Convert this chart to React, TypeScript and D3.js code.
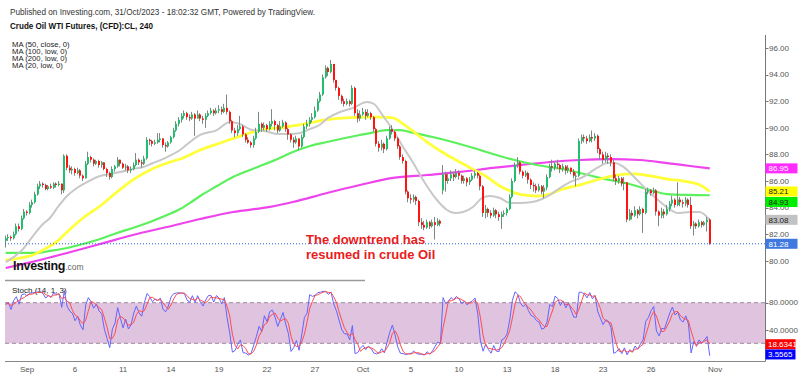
import React from 'react';
import * as d3 from 'd3';

const headerText = 'Published on Investing.com, 31/Oct/2023 - 18:02:32 GMT, Powered by TradingView.';
const titleText = 'Crude Oil WTI Futures, (CFD):CL, 240';
const maLegend = ['MA (50, close, 0)', 'MA (100, low, 0)', 'MA (200, low, 0)', 'MA (20, low, 0)'];
const stochLabel = 'Stoch (14, 1, 3)';
const noteLines = ['The downtrend has', 'resumed in crude Oil'];

const priceTicks = [80, 82, 84, 86, 88, 90, 92, 94, 96];
const stochTicks = [80, 40];
const stochBand = [20, 80];
const xTickLabels = ['Sep', '6', '11', '14', '19', '22', '27', 'Oct', '5', '10', '13', '18', '23', '26', 'Nov'];
const xTickBars = [8, 26, 44, 62, 80, 98, 116, 134, 152, 170, 188, 206, 224, 242, 266];

const lastPrice = 81.28;
const priceTagValues = [86.95, 85.21, 84.93, 83.08, 81.28];
const stochTagValues = [18.6341, 3.5565];

// 4h candles: [high, low, close]; open = previous close unless listed in gapOpens
const firstOpen = 81.5;
const gapOpens: [number, number][] = [[164, 85.3]];
const candleHLC: [number, number, number][] = [
  [81.9,81.0,81.7],[82.0,81.5,81.8],[81.9,81.5,81.7],[82.2,81.6,82.0],[82.8,81.9,82.6],[82.8,82.2,82.4],
  [83.4,82.3,83.2],[83.9,83.1,83.7],[83.8,83.4,83.6],[84.4,83.5,84.2],[84.6,84.0,84.4],[85.2,84.3,85.0],
  [85.8,84.9,85.6],[86.0,85.4,85.8],[85.9,85.5,85.7],[85.8,85.3,85.4],[85.7,85.3,85.6],[85.8,85.4,85.5],
  [85.9,85.4,85.8],[85.9,85.5,85.7],[86.0,85.6,85.8],[85.8,85.0,85.3],[88.0,85.1,87.9],[88.0,86.8,87.0],
  [87.2,86.6,86.8],[87.1,86.5,86.9],[87.0,86.4,86.6],[87.0,86.5,86.8],[86.9,86.2,86.4],[86.5,86.0,86.2],
  [87.5,86.2,87.3],[88.2,87.2,87.8],[87.9,87.4,87.6],[87.7,87.1,87.3],[87.6,87.2,87.5],[87.6,87.0,87.2],
  [87.5,87.0,87.4],[87.4,86.8,86.9],[87.0,86.3,86.6],[86.7,86.1,86.3],[87.1,86.2,86.9],[87.2,86.7,87.1],
  [87.8,87.0,87.6],[87.6,87.1,87.3],[87.4,86.9,87.0],[87.3,86.8,87.1],[87.2,86.6,86.8],[87.1,86.6,86.9],
  [87.4,86.8,87.2],[88.1,87.1,87.6],[87.7,87.2,87.4],[87.6,87.0,87.3],[87.9,87.2,87.7],[89.3,87.6,89.1],
  [89.2,88.7,89.0],[89.1,88.6,88.8],[89.1,88.7,88.9],[89.6,88.8,89.1],[89.6,88.9,89.2],[89.2,88.5,88.7],
  [88.9,88.2,88.6],[89.0,88.5,88.9],[89.4,88.8,89.3],[90.0,89.2,89.8],[90.5,89.7,90.3],[90.8,90.1,90.6],
  [91.1,90.4,90.9],[91.3,90.7,91.1],[91.2,90.6,90.8],[91.0,90.5,90.7],[91.2,90.6,91.0],[91.1,89.4,90.7],
  [91.3,90.7,91.0],[91.1,90.5,90.7],[90.9,90.3,90.6],[91.1,90.0,90.9],[91.3,90.8,91.1],[91.5,91.0,91.3],
  [91.4,90.9,91.1],[91.5,91.0,91.3],[91.7,91.1,91.4],[91.6,91.0,91.2],[91.8,91.1,91.5],[92.5,91.0,91.2],
  [91.3,90.3,90.5],[90.6,89.6,89.8],[90.0,89.3,89.6],[90.2,89.4,89.9],[90.9,89.8,90.1],[90.2,89.3,89.5],
  [89.6,88.9,89.1],[89.3,88.8,88.9],[89.0,88.5,88.7],[89.4,88.5,89.2],[90.0,89.1,89.7],[91.2,89.6,90.3],
  [90.4,89.7,90.0],[90.4,89.8,90.2],[90.3,89.7,89.9],[90.5,89.8,90.3],[91.4,90.1,90.5],[90.6,89.8,90.2],
  [90.3,89.6,89.8],[90.5,89.7,90.1],[90.6,90.0,90.4],[90.5,89.7,89.9],[90.0,89.1,89.5],[89.6,88.9,89.1],
  [89.3,88.5,88.9],[89.4,88.8,89.2],[89.2,88.3,88.6],[89.5,88.5,89.3],[90.3,89.2,90.1],[90.6,89.9,90.3],
  [90.8,90.1,90.6],[91.1,90.4,90.8],[91.6,90.7,91.3],[92.2,91.2,92.0],[92.7,91.9,92.5],[94.0,92.4,93.8],
  [94.7,93.7,94.5],[94.6,93.9,94.2],[95.1,94.1,94.8],[94.8,93.4,93.6],[93.6,92.8,93.0],[93.1,92.1,92.4],
  [92.5,91.8,92.0],[92.2,91.6,91.8],[92.2,91.7,92.0],[92.1,91.6,91.8],[93.2,91.7,93.0],[93.1,90.9,91.1],
  [91.4,90.4,90.7],[91.3,90.5,91.0],[91.5,90.9,91.2],[91.4,90.6,90.9],[91.4,90.8,91.1],[91.2,90.6,90.8],
  [90.9,89.7,89.9],[90.0,88.6,88.8],[89.0,88.2,88.5],[89.1,88.3,88.8],[88.9,88.1,88.4],[89.4,88.3,89.2],
  [90.1,89.1,89.9],[90.2,89.5,89.7],[89.8,89.0,89.2],[89.3,88.4,88.6],[88.7,87.6,87.8],[88.0,87.3,87.5],
  [87.6,85.0,85.2],[85.3,84.4,84.7],[85.0,84.3,84.6],[85.0,84.4,84.8],[84.9,84.2,84.5],[84.6,82.6,82.9],
  [83.2,82.4,82.7],[83.0,82.3,82.5],[83.1,82.4,82.9],[83.0,82.4,82.6],[83.1,82.5,82.9],[83.3,81.6,82.7],
  [83.2,82.6,83.0],[83.1,82.6,82.8],[87.2,85.0,86.5],[86.7,85.2,86.0],[86.6,85.8,86.2],[86.8,86.0,86.5],
  [86.7,86.0,86.3],[86.9,86.2,86.6],[86.8,86.1,86.4],[86.5,85.8,86.0],[86.4,85.8,86.2],[86.3,85.6,85.9],
  [86.3,85.7,86.1],[86.6,86.0,86.4],[86.8,86.2,86.6],[86.7,86.2,86.4],[86.5,85.3,85.6],[85.7,83.3,83.6],
  [84.2,83.2,83.9],[84.0,83.3,83.6],[83.8,83.2,83.4],[84.0,83.3,83.8],[83.9,83.2,83.5],[83.7,83.0,83.3],
  [83.7,82.4,83.5],[83.8,83.3,83.6],[84.0,83.4,83.9],[85.0,83.8,84.8],[86.2,84.7,86.0],[87.4,85.9,87.2],
  [87.8,87.0,87.4],[87.5,86.5,86.7],[86.8,86.2,86.4],[86.8,86.3,86.6],[86.7,85.8,86.1],[86.2,85.4,85.7],
  [85.9,85.2,85.6],[85.8,85.1,85.3],[85.8,85.2,85.6],[85.7,85.0,85.2],[85.7,84.7,85.5],[86.5,85.3,86.3],
  [87.3,86.2,87.1],[87.6,86.7,87.0],[87.5,86.8,87.3],[87.6,86.9,87.2],[87.3,86.6,86.9],[87.3,86.7,87.1],
  [87.2,86.5,86.8],[87.2,86.6,87.0],[87.0,86.5,86.7],[86.9,86.2,86.4],[86.6,85.6,86.4],[89.2,86.3,89.0],
  [89.5,88.8,89.3],[89.5,88.9,89.2],[89.4,88.8,89.0],[89.5,88.9,89.3],[89.8,88.9,89.2],[89.6,89.0,89.4],
  [89.5,88.1,88.4],[88.5,87.6,88.0],[88.2,87.3,87.6],[88.2,87.4,87.9],[88.1,87.3,87.8],[88.0,87.1,87.4],
  [87.6,86.0,86.2],[86.5,85.7,86.0],[86.4,85.8,86.2],[86.3,85.6,85.8],[86.3,85.3,85.9],[85.9,82.9,83.1],
  [83.9,83.0,83.6],[83.8,83.1,83.4],[84.1,83.3,83.8],[83.9,83.2,83.5],[84.1,83.4,83.9],[84.0,82.1,83.6],
  [85.4,83.5,85.2],[85.5,85.0,85.3],[85.4,84.9,85.1],[85.5,85.0,85.3],[85.4,83.4,83.7],[83.8,82.6,83.4],
  [84.0,83.2,83.7],[83.9,83.2,83.5],[84.2,83.4,83.9],[84.5,83.7,84.3],[84.9,84.1,84.6],[84.7,84.0,84.2],
  [85.9,84.1,84.6],[84.8,84.1,84.4],[84.6,84.0,84.3],[84.8,84.1,84.6],[84.7,84.0,84.2],[84.8,82.4,82.6],
  [83.0,81.9,82.8],[82.9,82.4,82.6],[83.1,82.5,82.9],[83.0,82.5,82.7],[83.0,82.6,82.9],[83.3,82.2,83.1],
  [83.2,81.2,81.28],
];

// moving averages: [bar index, price]
const ma20: [number, number][] = [
  [0,79.9],[1.6,80.1],[6.1,80.8],[10.2,81.86],[13.6,82.69],[16.6,83.22],[19.6,84.05],[23,84.87],[26.7,85.47],
  [30.5,85.92],[35.4,86.38],[39.1,86.53],[42.9,86.68],[47.7,86.9],[51.5,87.05],[55.2,87.35],[60.5,87.8],
  [65.4,88.33],[69.1,88.93],[72.9,89.46],[79.2,89.83],[84.1,90.44],[87.9,90.29],[92.4,89.83],[97.2,89.76],
  [102.1,89.53],[106.6,89.53],[110.4,89.61],[114.1,89.91],[117.1,90.14],[120.9,90.74],[125.4,91.19],
  [130.2,91.49],[135.5,91.94],[138.1,91.79],[141.5,90.89],[145.2,89.83],[149,88.56],[152.6,87.43],
  [156.5,86.08],[161.7,84.57],[165.5,83.82],[168.5,83.59],[171.5,83.67],[175.2,84.05],[178.6,84.72],
  [181.6,84.87],[185.3,84.72],[189.1,84.35],[192.8,84.35],[197.4,84.42],[201.1,84.65],[204.1,84.95],
  [207.8,85.47],[211.6,85.92],[216.5,86.3],[221.7,86.98],[225.8,87.35],[228.5,87.35],[231.1,87.13],
  [236,86.23],[240.8,85.25],[244.6,84.57],[248.3,83.97],[252.1,83.59],[256.6,83.67],[260.3,83.67],
  [262.2,83.44],[264,83.08],
];
const ma50: [number, number][] = [
  [0,80.06],[5.4,80.2],[10.2,80.44],[14.7,80.89],[18.5,81.34],[23,82.17],[29,83.22],[35.4,84.12],
  [41.7,85.17],[47.7,86.08],[54.1,86.83],[60.5,87.35],[66.5,87.73],[72.9,88.33],[80.4,88.86],[87.9,89.38],
  [95.4,89.83],[104.7,90.06],[112.2,90.29],[119.7,90.59],[127.2,90.74],[134.7,90.81],[140.3,90.81],
  [145.2,90.74],[149,90.29],[152.6,89.76],[158,88.93],[165.5,87.95],[173,87.13],[180.5,86.3],[185.3,85.62],
  [189.1,85.25],[194,84.95],[199.2,84.87],[204.1,85.02],[207.8,85.32],[216.5,85.77],[222.8,86.15],
  [229.2,86.45],[235.2,86.53],[241.6,86.38],[247.9,86.15],[253.9,86.0],[260.3,85.7],[264,85.21],
];
const ma100: [number, number][] = [
  [0,80.59],[11.7,80.59],[16.6,80.74],[23,80.96],[29,81.26],[35.4,81.64],[41.7,82.09],[47.7,82.47],
  [54.1,82.92],[60.5,83.44],[65.4,83.89],[69.1,84.35],[72.9,84.87],[79.2,85.62],[85.2,86.3],[91.6,86.83],
  [95.4,87.13],[101,87.58],[107.7,88.18],[114.1,88.63],[120.5,88.93],[127.2,89.23],[132.8,89.46],
  [138.5,89.68],[142.9,89.83],[147.8,89.83],[151.6,89.68],[161.7,89.23],[174.1,88.56],[186.5,87.8],
  [199.2,87.2],[210.5,86.83],[222.8,86.23],[235.2,85.7],[241.6,85.32],[247.9,85.02],[255.8,84.95],[264,84.93],
];
const ma200: [number, number][] = [
  [0,79.46],[8,79.83],[12.9,80.06],[23,80.59],[35.4,81.26],[47.7,81.94],[60.5,82.54],[72.9,83.14],
  [85.2,83.67],[99.1,84.05],[107.7,84.42],[120.5,85.1],[132.8,85.7],[145.2,86.23],[158,86.45],[170.4,86.68],
  [182.7,86.98],[192.8,87.2],[204.1,87.43],[215.3,87.58],[226.6,87.65],[237.8,87.58],[247.9,87.35],
  [256.6,87.13],[264,86.95],
];

const FONT = '"Liberation Sans", Arial, sans-serif';

export default function App() {
  const x = d3.scaleLinear().domain([0, 266]).range([5.7, 715.1]);
  const y = d3.scaleLinear().domain([80, 96]).range([260.8, 48]);
  const ys = d3.scaleLinear().domain([0, 100]).range([356.85, 289.15]);

  const gapMap = new Map(gapOpens);
  const candles = candleHLC.map(([h, l, c], i) => {
    const o = i === 0 ? firstOpen : (gapMap.get(i) ?? candleHLC[i - 1][2]);
    return { i, o, h, l, c };
  });

  const K = candles.map((d, i) => {
    const w = candles.slice(Math.max(0, i - 13), i + 1);
    const hh = d3.max(w, (e) => e.h) as number;
    const ll = d3.min(w, (e) => e.l) as number;
    return hh === ll ? 50 : (100 * (d.c - ll)) / (hh - ll);
  });
  const D = K.map((_, i) => d3.mean(K.slice(Math.max(0, i - 2), i + 1)) as number);

  const maLine = d3.line<[number, number]>().x((d) => x(d[0])).y((d) => y(d[1])).curve(d3.curveMonotoneX);
  const stLine = d3.line<number>().x((_, i) => x(i)).y((v) => ys(v));

  const axisX = 765.5;
  const left = 5;
  const tagColors = ['#ff2cff', '#ffff00', '#00ee00', '#c2c2c2', '#3f78de'];
  const tagText = ['#ffffff', '#222', '#222', '#222', '#ffffff'];
  const stTagColors = ['#ff0000', '#0000ff'];
  const maStyles = [
    { d: ma200, c: '#ee44ee', w: 2.2 },
    { d: ma100, c: '#5cf05c', w: 2.2 },
    { d: ma50, c: '#ffff3a', w: 2.8 },
    { d: ma20, c: '#c8c8c8', w: 2 },
  ];

  // price tags: stacked so that they never overlap (like the axis labels of the reference)
  const tagH = 10;
  const tagY: number[] = [];
  priceTagValues.forEach((v, i) => {
    let p = y(v);
    if (i > 0 && p < tagY[i - 1] + tagH + 0.5) p = tagY[i - 1] + tagH + 0.5;
    tagY.push(p);
  });

  return (
    <svg width={800} height={376} style={{ position: 'absolute', left: 0, top: 0, background: '#fff' }} fontFamily={FONT}>
      <defs>
        <clipPath id="mainClip">
          <rect x={left} y={35} width={axisX - left} height={243} />
        </clipPath>
      </defs>
      <rect x={0} y={0} width={800} height={376} fill="#fff" />

      <text x={10} y={14.5} fontSize={9} fill="#333" textLength={305} lengthAdjust="spacingAndGlyphs">{headerText}</text>
      <text x={10} y={28.5} fontSize={9} fontWeight="bold" fill="#111" textLength={143} lengthAdjust="spacingAndGlyphs">{titleText}</text>
      {maLegend.map((t, i) => (
        <text key={t} x={12} y={46.5 + i * 7.3} fontSize={7.7} fill="#222">{t}</text>
      ))}

      {/* stochastic band */}
      <rect x={left} y={ys(stochBand[1])} width={axisX - left} height={ys(stochBand[0]) - ys(stochBand[1])} fill="#dfc3df" />
      {stochBand.map((v) => (
        <line key={v} x1={left} x2={axisX} y1={ys(v)} y2={ys(v)} stroke="#9d8a9d" strokeDasharray="4,3" strokeWidth={1} />
      ))}

      <g clipPath="url(#mainClip)">
        {maStyles.map((m, i) => (
          <path key={i} d={maLine(m.d) || ''} fill="none" stroke={m.c} strokeWidth={m.w} strokeLinejoin="round" />
        ))}
        {candles.map((d) => {
          const cx = Math.round(x(d.i));
          const up = d.c >= d.o;
          const top = y(Math.max(d.o, d.c));
          const bot = y(Math.min(d.o, d.c));
          return (
            <g key={d.i}>
              <rect x={cx - 1} y={y(d.h)} width={1} height={y(d.l) - y(d.h)} fill="#7a8a82" />
              <rect x={cx - 1} y={top} width={2} height={Math.max(1, bot - top)} fill={up ? '#1fbf6d' : '#ff1414'} />
            </g>
          );
        })}
      </g>

      <line x1={left} x2={axisX} y1={y(lastPrice)} y2={y(lastPrice)} stroke="#2a5ee8" strokeWidth={1} strokeDasharray="1,2" />

      {/* Investing logo */}
      <text x={13} y={270} fill="#111">
        <tspan fontSize={12.5} fontWeight="bold" letterSpacing={-0.3}>Investing</tspan>
        <tspan fontSize={8.5} fill="#666">.com</tspan>
      </text>

      {/* annotation */}
      {noteLines.map((t, i) => (
        <text key={t} x={306} y={244 + i * 15} fontSize={13} fontWeight="bold" fill="#ea1c1c">{t}</text>
      ))}

      {/* pane separator */}
      <line x1={left} x2={365} y1={280.5} y2={280.5} stroke="#9a9a9a" strokeWidth={1.5} />
      <text x={12} y={292.5} fontSize={8} fill="#222">{stochLabel}</text>

      {/* stochastic lines */}
      <path d={stLine(K) || ''} fill="none" stroke="#6464ff" strokeWidth={1} />
      <path d={stLine(D) || ''} fill="none" stroke="#ff4d4d" strokeWidth={1} />

      {/* axes */}
      <line x1={axisX} x2={axisX} y1={35} y2={361.5} stroke="#777" strokeWidth={1} />
      <line x1={left} x2={axisX} y1={361.5} y2={361.5} stroke="#888" strokeWidth={1} />
      {priceTicks.map((v) => (
        <g key={v}>
          <line x1={axisX} x2={axisX + 3} y1={Math.round(y(v)) + 0.5} y2={Math.round(y(v)) + 0.5} stroke="#777" />
          <text x={769} y={y(v)} dy="0.35em" fontSize={8} fill="#555">{v.toFixed(2)}</text>
        </g>
      ))}
      {stochTicks.map((v) => (
        <g key={v}>
          <line x1={axisX} x2={axisX + 3} y1={Math.round(ys(v)) + 0.5} y2={Math.round(ys(v)) + 0.5} stroke="#777" />
          <text x={769} y={ys(v)} dy="0.35em" fontSize={8} fill="#555">{v.toFixed(4)}</text>
        </g>
      ))}
      {xTickLabels.map((t, i) => (
        <text key={t + i} x={x(xTickBars[i])} y={372} fontSize={8} fill="#555" textAnchor="middle">{t}</text>
      ))}

      {/* price tags */}
      {priceTagValues.map((v, i) => (
        <g key={v}>
          <rect x={axisX} y={tagY[i] - tagH / 2} width={32} height={tagH} fill={tagColors[i]} />
          <text x={768.5} y={tagY[i]} dy="0.35em" fontSize={8} fill={tagText[i]}>{v.toFixed(2)}</text>
        </g>
      ))}
      {stochTagValues.map((v, i) => (
        <g key={v}>
          <rect x={axisX} y={ys(v) - 5} width={30} height={10} fill={stTagColors[i]} />
          <text x={768} y={ys(v)} dy="0.35em" fontSize={8} fill="#fff">{v.toFixed(4)}</text>
        </g>
      ))}
    </svg>
  );
}
